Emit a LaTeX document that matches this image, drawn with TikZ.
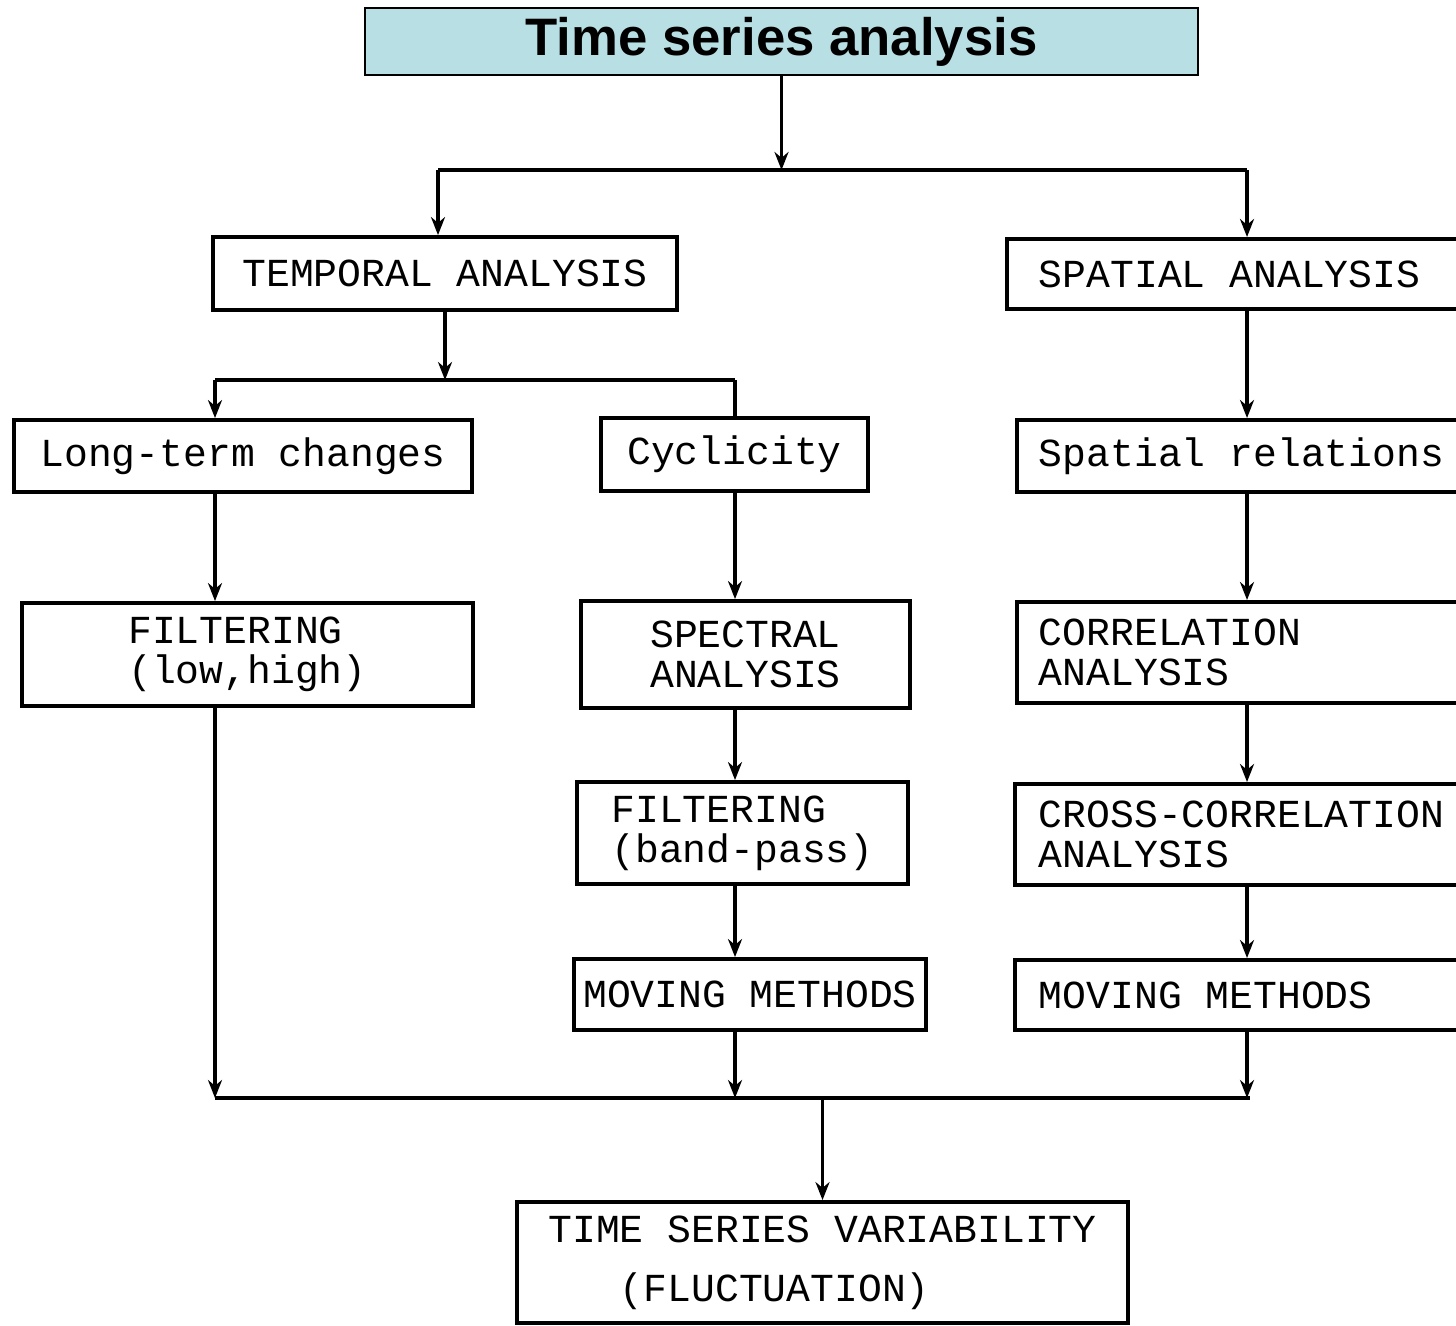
\documentclass[tikz,border=0pt]{standalone}
\usepackage{fontspec}
\usepackage{tikz}
\usetikzlibrary{arrows.meta,positioning}
\newfontfamily\typefont[WordSpace={1,0,0}]{Liberation Mono}
\newfontfamily\headfont{Liberation Sans}
\definecolor{tsahead}{HTML}{B8E0E4}

\begin{document}
\begin{tikzpicture}[
  head/.style={draw=black,line width=0.7pt,fill=tsahead,minimum width=8.33cm,minimum height=0.67cm,inner sep=0pt,font=\headfont\bfseries\fontsize{15}{18}\selectfont},
  stage/.style={draw,line width=1.1pt,inner sep=0pt,align=left,font=\typefont\fontsize{11.3}{11.4}\selectfont},
  side/.style={stage,align=flush left,anchor=north west,inner xsep=0.22cm,text width=4.3cm},
  link/.style={line width=1pt},
  >={Stealth[length=1.8mm,width=1.4mm]}]

  \useasboundingbox (0,0) rectangle (14.56,-13.25);

  % Header
  \node[head] (title) at (7.815,-0.415) {Time series analysis};

  % Temporal branch
  \node[stage,minimum width=4.64cm,minimum height=0.73cm] (temporal) at (4.45,-2.735) {TEMPORAL ANALYSIS};
  \node[stage,minimum width=4.58cm,minimum height=0.72cm] (longterm) at (2.43,-4.56) {Long-term changes};
  \node[stage,minimum width=2.67cm,minimum height=0.73cm] (cyclicity) at (7.345,-4.545) {Cyclicity};
  \node[stage,minimum width=4.51cm,minimum height=1.03cm] (filtlow) at (2.475,-6.545) {FILTERING\\(low,high)};
  \node[stage,minimum width=3.29cm,minimum height=1.07cm] (spectral) at (7.455,-6.545) {SPECTRAL\\ANALYSIS};
  \node[stage,minimum width=3.31cm,minimum height=1.02cm] (filtband) at (7.425,-8.33) {FILTERING\\(band-pass)};
  \node[stage,minimum width=3.52cm,minimum height=0.71cm] (movingT) at (7.5,-9.945) {MOVING METHODS};

  % Spatial branch
  \node[side,inner xsep=0.32cm,minimum height=0.70cm] (spatial) at (10.05,-2.37) {SPATIAL ANALYSIS};
  \node[side,minimum height=0.72cm] (spatrel) at (10.15,-4.18) {Spatial relations};
  \node[side,minimum height=1.01cm] (correl) at (10.15,-6.00) {CORRELATION\\ANALYSIS};
  \node[side,inner xsep=0.24cm,minimum height=1.01cm] (crosscor) at (10.13,-7.82) {CROSS-CORRELATION\\ANALYSIS};
  \node[side,inner xsep=0.24cm,minimum height=0.70cm] (movingS) at (10.13,-9.58) {MOVING METHODS};

  % Result
  \node[stage,minimum width=6.11cm,minimum height=1.21cm] (variability) at (8.225,-12.625) {TIME SERIES VARIABILITY\\[5.4pt]\phantom{TIM}(FLUCTUATION)};

  % bars
  \coordinate (topL) at (4.38,-1.70);
  \coordinate (topR) at (12.47,-1.70);
  \coordinate (midL) at (2.15,-3.80);
  \coordinate (midR) at (7.35,-3.80);
  \coordinate (botL) at (2.15,-10.98);
  \coordinate (botR) at (12.50,-10.98);

  \draw[link,->] (title.south) -- (title.south |- topL);
  \draw[link] (topL) -- (topR);
  \draw[link,->] (topL) -- (topL |- temporal.north);
  \draw[link,->] (topR) -- (topR |- spatial.north);

  \draw[link,->] (temporal.south) -- (temporal.south |- midL);
  \draw[link] (midL) -- (midR);
  \draw[link,->] (midL) -- (midL |- longterm.north);
  \draw[link] (midR) -- (midR |- cyclicity.north);
  \draw[link,->] (midL |- longterm.south) -- (midL |- filtlow.north);
  \draw[link,->] (midR |- cyclicity.south) -- (midR |- spectral.north);
  \draw[link,->] (midR |- spectral.south) -- (midR |- filtband.north);
  \draw[link,->] (midR |- filtband.south) -- (midR |- movingT.north);

  \draw[link,->] (topR |- spatial.south) -- (topR |- spatrel.north);
  \draw[link,->] (topR |- spatrel.south) -- (topR |- correl.north);
  \draw[link,->] (topR |- correl.south) -- (topR |- crosscor.north);
  \draw[link,->] (topR |- crosscor.south) -- (topR |- movingS.north);

  \draw[link,->] (midL |- filtlow.south) -- (botL);
  \draw[link,->] (midR |- movingT.south) -- (midR |- botL);
  \draw[link,->] (topR |- movingS.south) -- (topR |- botL);
  \draw[link] (botL) -- (botR);
  \draw[link,->] (variability.north |- botL) -- (variability.north);

\end{tikzpicture}
\end{document}
